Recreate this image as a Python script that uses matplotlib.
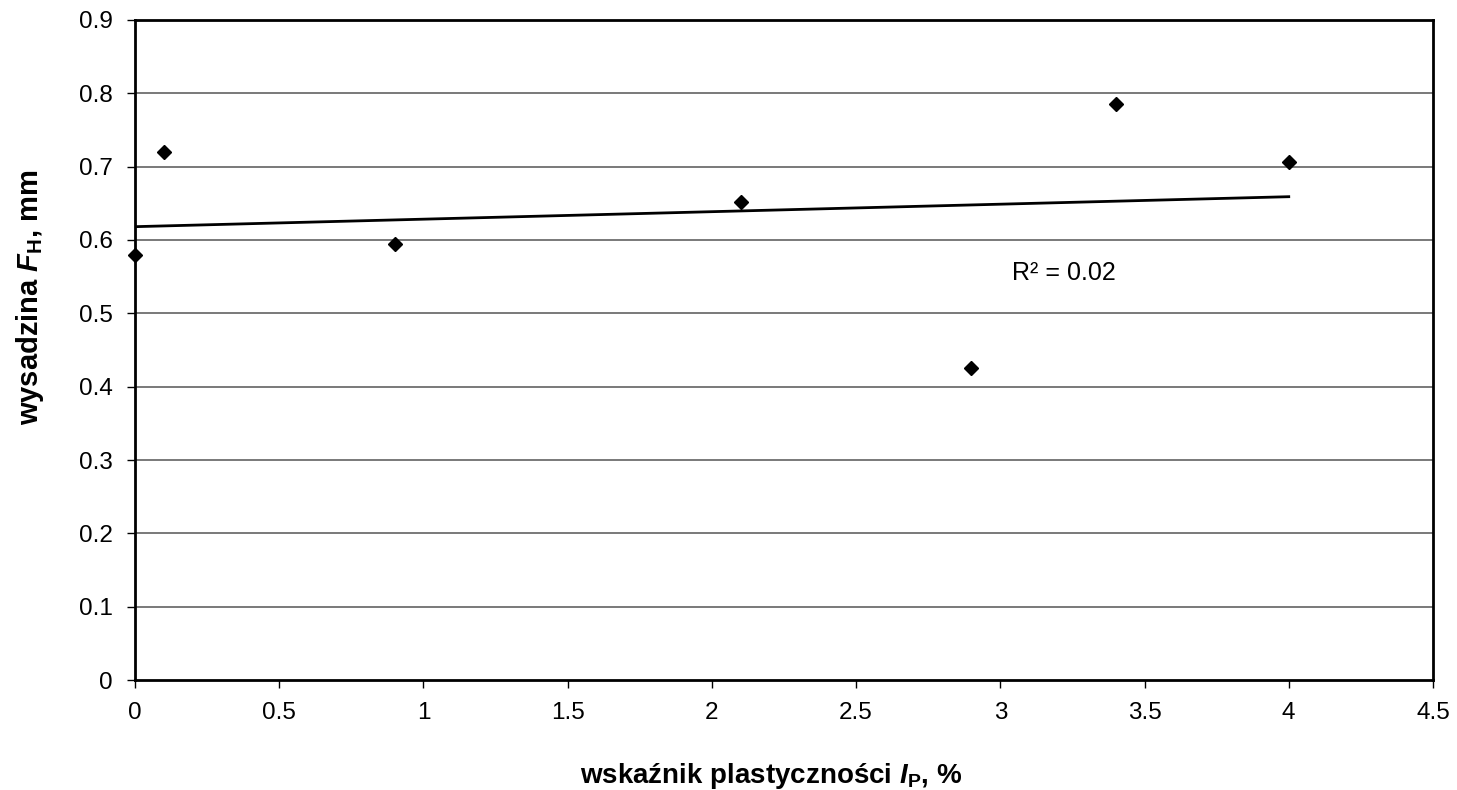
import matplotlib.pyplot as plt
import numpy as np

plt.rcParams['font.family'] = ['Liberation Sans', 'DejaVu Sans']
plt.rcParams['mathtext.fontset'] = 'custom'
plt.rcParams['mathtext.rm'] = 'Liberation Sans:bold'
plt.rcParams['mathtext.it'] = 'Liberation Sans:italic:bold'

# wskaźnik plastyczności I_P [%] vs wysadzina F_H [mm]
ip = [0.0, 0.1, 0.9, 2.1, 2.9, 3.4, 4.0]
fh = [0.58, 0.72, 0.595, 0.652, 0.425, 0.785, 0.706]
x_ticks = [0, 0.5, 1, 1.5, 2, 2.5, 3, 3.5, 4, 4.5]
y_ticks = [0, 0.1, 0.2, 0.3, 0.4, 0.5, 0.6, 0.7, 0.8, 0.9]

x = np.array(ip)
y = np.array(fh)
a, b = np.polyfit(x, y, 1)
r2 = np.corrcoef(x, y)[0, 1] ** 2

fig = plt.figure(figsize=(14.57, 7.9), dpi=100)
ax = fig.add_axes([0.0927, 0.139, 0.8908, 0.836])

for yt in y_ticks[1:-1]:
    ax.axhline(yt, color='#555555', lw=1.1, zorder=1)

xx = np.array([x.min(), x.max()])
ax.plot(xx, a * xx + b, color='black', lw=2, zorder=2)
ax.plot(x, y, 'D', color='black', ms=7, zorder=3, clip_on=False)

ax.text(3.04, 0.555, 'R² = %.2f' % r2, fontsize=18, va='center', ha='left')

ax.set_xlim(0, 4.5)
ax.set_ylim(0, 0.9)
ax.set_xticks(x_ticks)
ax.set_xticklabels(['0', '0.5', '1', '1.5', '2', '2.5', '3', '3.5', '4', '4.5'])
ax.set_yticks(y_ticks)
ax.set_yticklabels(['0', '0.1', '0.2', '0.3', '0.4', '0.5', '0.6', '0.7', '0.8', '0.9'])
ax.tick_params(labelsize=17.5, length=6, width=1, direction='out', pad=10)

for s in ax.spines.values():
    s.set_linewidth(2)
    s.set_color('black')

ax.set_ylabel(r'wysadzina $F_{\mathrm{H}}$, mm', fontsize=21, fontweight='bold')
ax.set_xlabel(r'wskaźnik plastyczności $I_{\mathrm{P}}$, %', fontsize=20,
              fontweight='bold')
ax.yaxis.set_label_coords(-0.069, 0.579)
ax.xaxis.set_label_coords(0.49, -0.122)

fig.savefig('out.png', dpi=100)
